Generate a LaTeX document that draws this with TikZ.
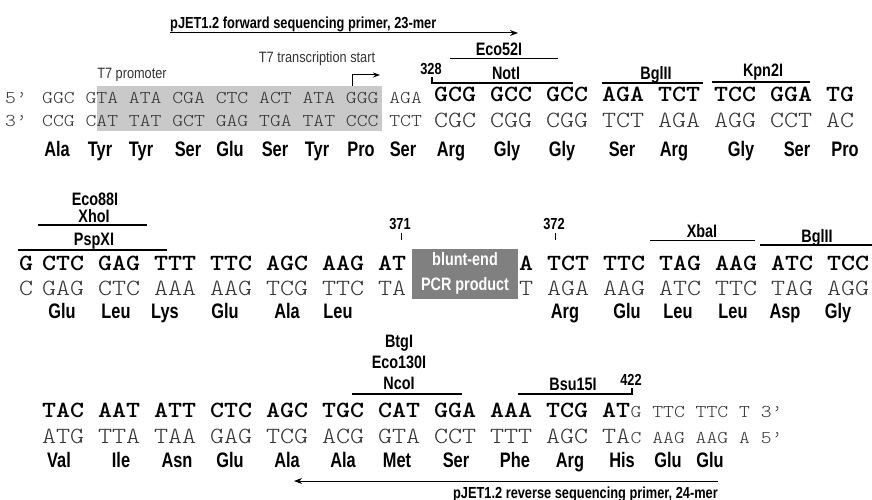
\documentclass[tikz,border=0pt]{standalone}
\usepackage{fontspec}
\usetikzlibrary{arrows.meta}
\newfontfamily\seqlightfont[FakeStretch=1.15]{lmmonolt10-regular.otf}
\newfontfamily\seqboldfont[FakeStretch=1.15]{lmmonolt10-bold.otf}
\newfontfamily\lblfont[FakeStretch=0.8]{Liberation Sans Bold}
\newfontfamily\aafont[FakeStretch=0.78]{Liberation Sans Bold}
\newfontfamily\thinfont[FakeStretch=0.85]{Liberation Sans}
\definecolor{lightseq}{gray}{0.2}
\definecolor{promgray}{gray}{0.79}
\definecolor{bluntgray}{gray}{0.5}
\tikzset{
  seqB/.style={font=\seqboldfont\fontsize{23.19}{24}\selectfont, anchor=base west, inner sep=0pt},
  seqL/.style={font=\seqlightfont\fontsize{23.19}{24}\selectfont, text=lightseq, anchor=base west, inner sep=0pt},
  seqS/.style={font=\seqlightfont\fontsize{17.97}{19}\selectfont, text=lightseq, anchor=base west, inner sep=0pt},
  aa/.style={font=\aafont\fontsize{21}{22}\selectfont, anchor=base, inner sep=0pt},
  enz/.style={font=\lblfont\fontsize{18}{19}\selectfont, anchor=base, inner sep=0pt},
  num/.style={font=\lblfont\fontsize{16}{17}\selectfont, anchor=base, inner sep=0pt},
  primer/.style={font=\lblfont\fontsize{16}{17}\selectfont, inner sep=0pt},
  thinlbl/.style={font=\thinfont\fontsize{15}{16}\selectfont, text=lightseq, anchor=base, inner sep=0pt},
  site/.style={line width=1.1pt},
  arr/.style={line width=1pt, -{Stealth[length=8pt,width=6pt]}},
  bluntbox/.style={fill=bluntgray, text=white, minimum width=106pt, minimum height=50pt, inner sep=0pt, align=center,
    font=\lblfont\fontsize{18}{25}\selectfont}
}
\begin{document}
\begin{tikzpicture}[x=1pt,y=-1pt]
\useasboundingbox (0,0) rectangle (872,500);
\fill[white] (0,0) rectangle (872,500);

% ---------- Row 1 ----------
\fill[promgray] (97,86) rectangle (382,131);
\node[primer, anchor=base west] (fwdtxt) at (170,28.5) {pJET1.2 forward sequencing primer, 23-mer};
\coordinate (fwdA) at (170,33);
\coordinate (fwdB) at (518,33);
\draw[arr] (fwdA) -- (fwdB);

\node[thinlbl] (t7p) at (132,79) {T7 promoter};
\node[thinlbl] (t7s) at (317,63) {T7 transcription start};
\coordinate (tssA) at (352,86);
\coordinate (tssB) at (380,75);
\draw[line width=1pt, -{Stealth[length=7pt,width=5pt]}] (tssA) |- (tssB);

\node[enz] (eco52) at (499,56) {Eco52I};
\draw[site] (450,58.5) -- (558,58.5);
\node[num] (n328) at (431,75) {328};
\node[enz] (notI) at (506,80) {NotI};
\draw[site] (432,77) -- (432,83) -- (573,83);
\node[enz] (bgl1) at (656,80) {BglII};
\draw[site] (602,83) -- (703,83);
\node[enz] (kpn) at (763,77) {Kpn2I};
\draw[site] (712,82) -- (810,82);

\node[seqS] (p5) at (5,103) {5’};
\node[seqS] (p3) at (5,127) {3’};
\node[seqS] (r1topS) at (42,103) {GGC GTA ATA CGA CTC ACT ATA GGG AGA};
\node[seqS] (r1botS) at (42,127) {CCG CAT TAT GCT GAG TGA TAT CCC TCT};
\node[seqB] (r1topB) at (434,102) {GCG GCC GCC AGA TCT TCC GGA TG};
\node[seqL] (r1botB) at (434,128) {CGC CGG CGG TCT AGA AGG CCT AC};

\foreach \n/\x [count=\i] in {Ala/57,Tyr/100,Tyr/141,Ser/188,Glu/230,Ser/275,Tyr/317,Pro/361,Ser/403,
  Arg/451,Gly/507,Gly/562,Ser/622,Arg/674,Gly/741,Ser/797,Pro/845}
  \node[aa] (aaA\i) at (\x,157) {\n};

% ---------- Row 2 ----------
\node[enz] (eco88) at (95,205) {Eco88I};
\node[enz] (xho) at (94,222) {XhoI};
\draw[site] (38,225) -- (147,225);
\node[enz] (psp) at (94,245) {PspXI};
\draw[site] (18,250) -- (167,250);
\node[num] (n371) at (400,229) {371};
\draw[line width=0.8pt] (401,233) -- (401,240);
\node[num] (n372) at (554,229) {372};
\draw[line width=0.8pt] (555,233) -- (555,240);
\node[enz] (xba) at (702,237.5) {XbaI};
\draw[site] (650,240.5) -- (755,240.5);
\node[enz] (bgl2) at (817,242.5) {BglII};
\draw[site] (760,245) -- (872,245);

\node[bluntbox] (blunt) at (465,273.5) {blunt-end\\PCR product};

\node[seqB] (r2g) at (19,270) {G};
\node[seqL] (r2c) at (19,295) {C};
\node[seqB] (r2topL) at (42,270) {CTC GAG TTT TTC AGC AAG AT};
\node[seqL] (r2botL) at (42,295) {GAG CTC AAA AAG TCG TTC TA};
\node[seqB] (r2topR) at (519,270) {A TCT TTC TAG AAG ATC TCC};
\node[seqL] (r2botR) at (519,295) {T AGA AAG ATC TTC TAG AGG};

\foreach \n/\x [count=\i] in {Glu/62,Leu/116,Lys/165,Glu/225,Ala/287,Leu/338,
  Arg/565,Glu/627,Leu/678,Leu/733,Asp/785,Gly/838}
  \node[aa] (aaB\i) at (\x,318) {\n};

% ---------- Row 3 ----------
\node[enz] (btg) at (399,347) {BtgI};
\node[enz] (eco130) at (399,368) {Eco130I};
\node[enz] (nco) at (399,389) {NcoI};
\draw[site] (352,394) -- (462,394);
\node[enz] (bsu) at (573,390) {Bsu15I};
\draw[site] (518,394) -- (632,394) -- (632,388);
\node[num] (n422) at (631,385) {422};

\node[seqB] (r3top) at (42,417) {TAC AAT ATT CTC AGC TGC CAT GGA AAA TCG AT};
\node[seqS, anchor=base west] (r3topT) at (r3top.base east) {G TTC TTC T 3’};
\node[seqL] (r3bot) at (42,443) {ATG TTA TAA GAG TCG ACG GTA CCT TTT AGC TA};
\node[seqS, anchor=base west] (r3botT) at (r3bot.base east) {C AAG AAG A 5’};

\foreach \n/\x [count=\i] in {Val/59,Ile/121,Asn/177,Glu/230,Ala/287,Ala/343,Met/397,Ser/456,
  Phe/515,Arg/570,His/622,Glu/668,Glu/710}
  \node[aa] (aaC\i) at (\x,467) {\n};

\coordinate (revA) at (718,481);
\coordinate (revB) at (294,481);
\draw[arr] (revA) -- (revB);
\node[primer, anchor=base east] (revtxt) at (718,498) {pJET1.2 reverse sequencing primer, 24-mer};
\end{tikzpicture}
\end{document}
